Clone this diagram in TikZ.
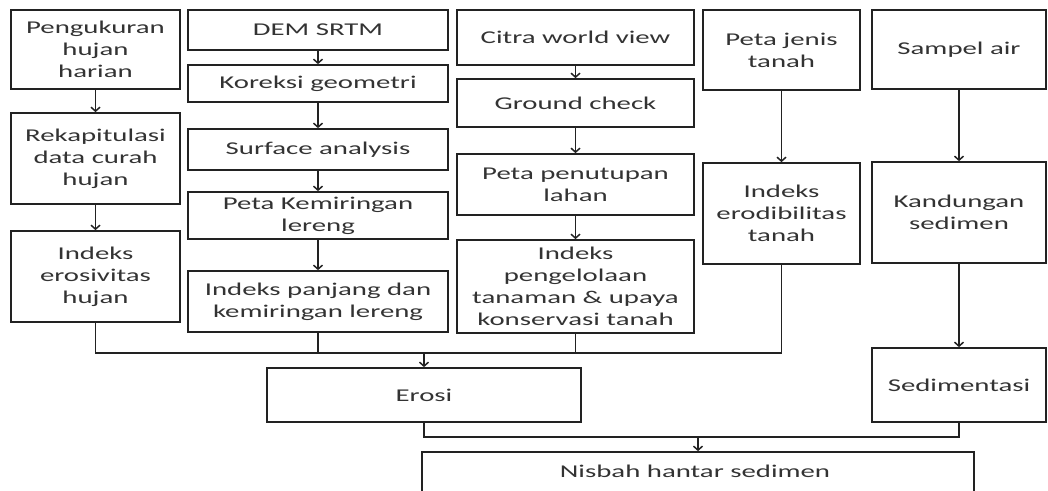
\documentclass[tikz,border=0pt]{standalone}
\usepackage{fontspec}
\setmainfont{Carlito}[FakeStretch=1.6]
\usetikzlibrary{arrows.meta}
\definecolor{ln}{HTML}{222222}
\definecolor{tx}{HTML}{333333}
\tikzset{
  bx/.style={draw=ln, line width=1.7pt, rectangle, inner sep=0pt, align=center,
    text=tx, font=\fontsize{18}{22}\selectfont},
  conn/.style={draw=ln, line width=1.7pt},
  arr/.style={conn, -{Straight Barb[length=4pt,width=9pt,line width=1.5pt]}}
}
\newcommand\bx[6]{\node[bx, minimum width={(#4-#2)*1pt}, minimum height={(#5-#3)*1pt}] (#1) at ({(#2+#4)/2},{(#3+#5)/2}) {#6};}
\begin{document}
\begin{tikzpicture}[x=1pt,y=-1pt]
\useasboundingbox (0,0) rectangle (1048,490);
% column 1
\bx{b1}{11}{10}{180}{89}{Pengukuran\\hujan\\harian}
\bx{b2}{11}{113}{180}{204}{Rekapitulasi\\data curah\\hujan}
\bx{b3}{11}{231}{180}{322}{Indeks\\erosivitas\\hujan}
% column 2
\bx{d1}{188}{10}{448}{50}{DEM SRTM}
\bx{d2}{188}{65}{448}{102}{Koreksi geometri}
\bx{d3}{188}{129}{448}{170}{Surface analysis}
\bx{d4}{188}{192}{448}{239}{Peta Kemiringan\\lereng}
\bx{d5}{188}{271}{448}{332}{Indeks panjang dan\\kemiringan lereng}
% column 3
\bx{e1}{457}{10}{694}{65}{Citra world view}
\bx{e2}{457}{79}{694}{127}{Ground check}
\bx{e3}{457}{154}{694}{215}{Peta penutupan\\lahan}
\bx{e4}{457}{240}{694}{333}{Indeks\\pengelolaan\\tanaman \& upaya\\konservasi tanah}
% column 4
\bx{f1}{703}{10}{860}{90}{Peta jenis\\tanah}
\bx{f2}{703}{163}{860}{264}{Indeks\\erodibilitas\\tanah}
% column 5
\bx{g1}{872}{10}{1046}{89}{Sampel air}
\bx{g2}{872}{162}{1046}{263}{Kandungan\\sedimen}
\bx{g3}{872}{348}{1046}{422}{Sedimentasi}
% bottom
\bx{erosi}{267}{368}{581}{422}{Erosi}
\bx{nisbah}{422}{452}{974}{500}{}
\node[text=tx, font=\fontsize{18}{22}\selectfont] (nt) at (695,471) {Nisbah hantar sedimen};
% vertical arrows
\draw[arr] (b1) -- (b2);
\draw[arr] (b2) -- (b3);
\draw[arr] (d1) -- (d2);
\draw[arr] (d2) -- (d3);
\draw[arr] (d3) -- (d4);
\draw[arr] (d4) -- (d5);
\draw[arr] (e1) -- (e2);
\draw[arr] (e2) -- (e3);
\draw[arr] (e3) -- (e4);
\draw[arr] (f1) -- (f2);
\draw[arr] (g1) -- (g2);
\draw[arr] (g2) -- (g3);
% bus 1
\coordinate (busR) at (781.5,353);
\draw[conn] (b3.south) |- (busR) -- (f2.south);
\draw[conn] (d5.south) -- (d5.south |- busR);
\draw[conn] (e4.south) -- (e4.south |- busR);
\draw[arr] (erosi.north |- busR) -- (erosi.north);
% bus 2
\coordinate (bus2) at (0,437);
\draw[conn] (erosi.south) -- (erosi.south |- bus2) -- (g3.south |- bus2) -- (g3.south);
\draw[arr] (nisbah.north |- bus2) -- (nisbah.north);
\end{tikzpicture}
\end{document}
